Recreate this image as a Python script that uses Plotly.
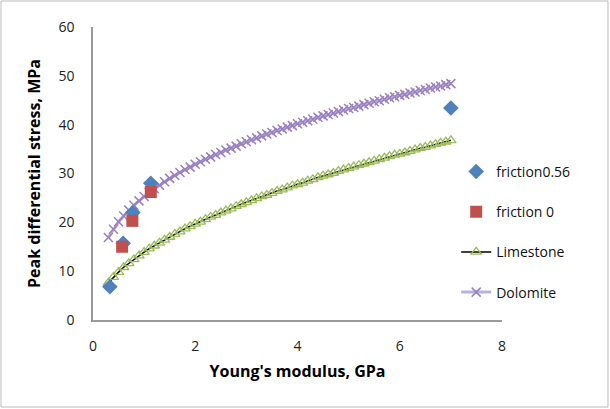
import plotly.graph_objects as go

# ---- data ----
f056_x = [0.33, 0.59, 0.78, 1.13, 7.0]
f056_y = [6.8, 15.7, 22.0, 28.0, 43.4]

f0_x = [0.57, 0.77, 1.13]
f0_y = [15.0, 20.3, 26.2]

curve_x = [0.3, 0.4, 0.5, 0.6, 0.7, 0.8, 0.9, 1.0, 1.1, 1.2, 1.3, 1.4, 1.5, 1.6, 1.7, 1.8, 1.9,
           2.0, 2.1, 2.2, 2.3, 2.4, 2.5, 2.6, 2.7, 2.8, 2.9, 3.0, 3.1, 3.2, 3.3, 3.4, 3.5, 3.6,
           3.7, 3.8, 3.9, 4.0, 4.1, 4.2, 4.3, 4.4, 4.5, 4.6, 4.7, 4.8, 4.9, 5.0, 5.1, 5.2, 5.3,
           5.4, 5.5, 5.6, 5.7, 5.8, 5.9, 6.0, 6.1, 6.2, 6.3, 6.4, 6.5, 6.6, 6.7, 6.8, 6.9, 7.0]

dolomite_y = [16.9, 18.6, 20.1, 21.3, 22.5, 23.5, 24.4, 25.3, 26.1, 26.9, 27.6, 28.3, 29.0, 29.6,
              30.2, 30.8, 31.3, 31.9, 32.4, 32.9, 33.4, 33.9, 34.3, 34.8, 35.2, 35.6, 36.1, 36.5,
              36.9, 37.3, 37.7, 38.1, 38.4, 38.8, 39.1, 39.5, 39.8, 40.2, 40.5, 40.8, 41.1, 41.5,
              41.8, 42.1, 42.4, 42.7, 43.0, 43.3, 43.5, 43.8, 44.1, 44.4, 44.7, 44.9, 45.2, 45.5,
              45.7, 46.0, 46.2, 46.5, 46.7, 47.0, 47.2, 47.5, 47.7, 47.9, 48.2, 48.4]

limestone_y = [7.6, 8.8, 9.8, 10.8, 11.6, 12.4, 13.2, 13.9, 14.6, 15.2, 15.8, 16.4, 17.0, 17.6,
               18.1, 18.7, 19.2, 19.7, 20.1, 20.6, 21.1, 21.5, 22.0, 22.4, 22.8, 23.3, 23.7, 24.1,
               24.5, 24.9, 25.3, 25.6, 26.0, 26.4, 26.7, 27.1, 27.5, 27.8, 28.1, 28.5, 28.8, 29.2,
               29.5, 29.8, 30.1, 30.5, 30.8, 31.1, 31.4, 31.7, 32.0, 32.3, 32.6, 32.9, 33.2, 33.5,
               33.8, 34.0, 34.3, 34.6, 34.9, 35.2, 35.4, 35.7, 36.0, 36.3, 36.5, 36.8]

x_ticks = [0, 2, 4, 6, 8]
y_ticks = [0, 10, 20, 30, 40, 50, 60]

FONT = "Open Sans"

fig = go.Figure()

fig.add_trace(go.Scatter(
    x=curve_x, y=dolomite_y, name="Dolomite", mode="lines+markers",
    line=dict(color="#B7B3DE", width=3),
    marker=dict(symbol="x-thin-open", size=9, line=dict(color="#9A7FC0", width=1.5), color="#9A7FC0"),
    legendgroup="d", legendrank=4))

fig.add_trace(go.Scatter(
    x=curve_x, y=limestone_y, name="Limestone", mode="lines+markers",
    line=dict(color="black", width=1.5),
    marker=dict(symbol="triangle-up-open", size=9, color="#9BBB59", line=dict(width=1.3)),
    legendgroup="c", legendrank=3))

fig.add_trace(go.Scatter(
    x=f056_x, y=f056_y, name="friction0.56", mode="markers",
    marker=dict(symbol="diamond", size=12, color="#4F81BD"),
    legendgroup="a", legendrank=1))

fig.add_trace(go.Scatter(
    x=f0_x, y=f0_y, name="friction 0", mode="markers",
    marker=dict(symbol="square", size=12, color="#C0504D"),
    legendgroup="b", legendrank=2))

fig.update_layout(
    width=610, height=409,
    margin=dict(l=93, r=108, t=27, b=89),
    paper_bgcolor="white", plot_bgcolor="white",
    font=dict(family=FONT, size=14, color="#222"),
    showlegend=True,
    legend=dict(x=0.888, y=0.56, xanchor="left", yanchor="top",
                font=dict(family=FONT, size=14, color="#111"),
                tracegroupgap=19, bgcolor="rgba(0,0,0,0)"),
    xaxis=dict(range=[0, 8], tickvals=x_ticks, showgrid=False, zeroline=False,
               showline=True, linecolor="#999", linewidth=1.5, ticks="",
               ticklabelstandoff=12,
               title=dict(text="<b>Young's modulus, GPa</b>", font=dict(family=FONT, size=16, color="black"),
                          standoff=12)),
    yaxis=dict(range=[0, 60], tickvals=y_ticks, showgrid=False, zeroline=False,
               showline=True, linecolor="#999", linewidth=1.5, ticks="",
               ticklabelstandoff=14,
               title=dict(text="<b>Peak differential stress, MPa</b>", font=dict(family=FONT, size=16, color="black"),
                          standoff=14)),
    shapes=[dict(type="rect", xref="paper", yref="paper",
                 x0=(1 - 93) / 409, x1=(608 - 93) / 409,
                 y0=(320 - 407) / 293, y1=(320 - 1) / 293,
                 line=dict(color="#BBB", width=1), fillcolor="rgba(0,0,0,0)", layer="below")],
)

fig.write_html("out.html", config={"displayModeBar": False},
               post_script="document.body.style.margin='0';document.body.style.overflow='hidden';")
